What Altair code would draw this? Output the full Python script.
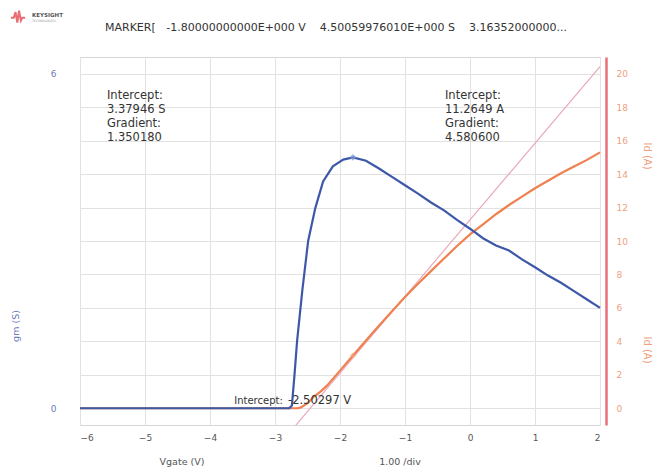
import altair as alt
import pandas as pd

# ---- data ----
vg_gm = [-6.0, -3.0, -2.78, -2.74, -2.70, -2.66, -2.58, -2.49, -2.38, -2.26, -2.11, -1.95,
         -1.8, -1.6, -1.4, -1.2, -1.0, -0.8, -0.6, -0.4, -0.2, 0.0, 0.2, 0.4, 0.6, 0.8,
         1.0, 1.2, 1.4, 1.6, 1.8, 2.0]
gm_vals = [0.0, 0.0, 0.0, 0.05, 0.6, 1.21, 2.11, 3.0, 3.59, 4.07, 4.34, 4.46,
           4.50, 4.44, 4.30, 4.15, 4.0, 3.85, 3.69, 3.55, 3.38, 3.22, 3.05, 2.92, 2.83, 2.67,
           2.53, 2.38, 2.25, 2.10, 1.95, 1.80]

vg_id = [-6.0, -3.0, -2.65, -2.6, -2.5, -2.4, -2.3, -2.2, -2.0, -1.8, -1.5, -1.2, -1.0,
         -0.8, -0.6, -0.4, -0.2, 0.0, 0.2, 0.4, 0.6, 0.8, 1.0, 1.2, 1.4, 1.6, 1.8, 2.0]
id_vals = [0.0, 0.0, 0.0, 0.05, 0.3, 0.7, 1.0, 1.35, 2.25, 3.16, 4.5, 5.8, 6.65,
           7.45, 8.2, 8.95, 9.7, 10.4, 11.0, 11.6, 12.15, 12.65, 13.15, 13.6, 14.05, 14.45, 14.85, 15.3]

tan_vg = [-2.72, 2.0]
tan_id = [-1.2, 20.43]

marker_vg = [-1.8]
marker_gm = [4.50]
marker_id = [3.16]

x_ticks = [-6, -5, -4, -3, -2, -1, 0, 1, 2]
gm_ticks = [0, 6]
id_ticks = [0, 2, 4, 6, 8, 10, 12, 14, 16, 18, 20]

NB = "\u00a0"
header = ("MARKER[" + NB * 3 + "-1.80000000000E+000 V" + NB * 4 +
          "4.50059976010E+000 S" + NB * 4 + "3.16352000000...")
note_gm = "Intercept:\n3.37946 S\nGradient:\n1.350180"
note_id = "Intercept:\n11.2649 A\nGradient:\n4.580600"
vth_label = "Intercept:"
vth_value = "-2.50297 V"

BLUE = "#3d58a8"
ORANGE = "#ef8150"
PINK = "#e9a3b5"
RED = "#e8707a"
FONT = "DejaVu Sans"

gm_df = pd.DataFrame({"Vgate": vg_gm, "gm": gm_vals})
id_df = pd.DataFrame({"Vgate": vg_id, "Id": id_vals})
tan_df = pd.DataFrame({"Vgate": tan_vg, "Id": tan_id})
mk_df = pd.DataFrame({"Vgate": marker_vg, "gm": marker_gm, "Id": marker_id})

xscale = alt.Scale(domain=[-6, 2], nice=False, zero=False)
gm_scale = alt.Scale(domain=[-0.3, 6.3], nice=False, zero=False)
id_scale = alt.Scale(domain=[-1, 21], nice=False, zero=False)

x_axis = alt.Axis(values=x_ticks, format="d", title="", grid=True, gridColor="#e2e2e2",
                  domain=False, ticks=False, labelPadding=8, labelFontSize=9,
                  labelColor="#555555", labelFont=FONT)
gm_axis = alt.Axis(values=gm_ticks, format="d", title="", grid=False, domain=False,
                   ticks=False, labelPadding=24, labelFontSize=9, labelColor="#6a7bb8",
                   labelFont=FONT)
id_axis = alt.Axis(values=id_ticks, format="d", title="", grid=True, gridColor="#e2e2e2",
                   domain=True, domainColor=RED, domainWidth=2.5, offset=6, ticks=False,
                   labelPadding=10, labelFontSize=9, labelColor="#f0a080", labelFont=FONT,
                   labelOverlap=False, orient="right")

X = alt.X("Vgate:Q", scale=xscale, axis=x_axis)
YG = alt.Y("gm:Q", scale=gm_scale, axis=gm_axis)
YI = alt.Y("Id:Q", scale=id_scale, axis=id_axis)

# left layer: gm
gm_line = alt.Chart(gm_df).mark_line(color=BLUE, strokeWidth=2.2).encode(x=X, y=YG)
gm_mark = alt.Chart(mk_df).mark_point(shape="diamond", size=45, color="#7f95d8",
                                      filled=True).encode(x=X, y=YG)

notes_df = pd.DataFrame({"Vgate": [-5.585, -0.385], "gm": [5.70, 5.70],
                         "txt": [note_gm, note_id]})
notes = alt.Chart(notes_df).mark_text(align="left", baseline="top", lineBreak="\n",
                                      lineHeight=14, fontSize=11.5, color="#333333",
                                      font=FONT).encode(x=X, y=YG, text="txt:N")

vth_df = pd.DataFrame({"Vgate": [-2.88, -2.80], "gm": [0.13, 0.13],
                       "txt": [vth_label, vth_value], "al": ["r", "l"]})
vth_l = alt.Chart(vth_df).transform_filter("datum.al == 'r'").mark_text(
    align="right", baseline="middle", fontSize=10, color="#333333", font=FONT).encode(
    x=X, y=YG, text="txt:N")
vth_r = alt.Chart(vth_df).transform_filter("datum.al == 'l'").mark_text(
    align="left", baseline="middle", fontSize=11.5, color="#333333", font=FONT).encode(
    x=X, y=YG, text="txt:N")

# static texts (header, titles, logo)
head_txt = alt.Chart(pd.DataFrame({"t": [header]})).mark_text(
    align="left", baseline="middle", fontSize=11, color="#333333", font=FONT).encode(
    x=alt.value(25), y=alt.value(-29), text="t:N")
logo_txt = alt.Chart(pd.DataFrame({"t": ["KEYSIGHT"]})).mark_text(
    align="left", baseline="middle", fontSize=5.5, color="#555555", font=FONT,
    fontWeight="bold").encode(x=alt.value(-48), y=alt.value(-42), text="t:N")
logo_sub = alt.Chart(pd.DataFrame({"t": ["TECHNOLOGIES"]})).mark_text(
    align="left", baseline="middle", fontSize=3, color="#999999", font=FONT).encode(
    x=alt.value(-48), y=alt.value(-36), text="t:N")
logo = alt.Chart(pd.DataFrame({"a": [1]})).mark_point(
    shape="M-1,0.1L-0.6,0.1L-0.35,-0.7L-0.1,0.8L0.15,-0.9L0.4,0.5L0.6,0.1L1,0.1",
    size=200, color="#e0303a", strokeWidth=2, filled=False).encode(
    x=alt.value(-62), y=alt.value(-40))

xt1 = alt.Chart(pd.DataFrame({"t": ["Vgate (V)"]})).mark_text(
    fontSize=9.5, color="#555555", font=FONT).encode(
    x=alt.value(102), y=alt.value(405), text="t:N")
xt2 = alt.Chart(pd.DataFrame({"t": ["1.00 /div"]})).mark_text(
    fontSize=9.5, color="#555555", font=FONT).encode(
    x=alt.value(320), y=alt.value(405), text="t:N")
ylt = alt.Chart(pd.DataFrame({"t": ["gm (S)"]})).mark_text(
    fontSize=9.5, color="#6a7bb8", font=FONT, angle=270).encode(
    x=alt.value(-64), y=alt.value(269), text="t:N")
yrt1 = alt.Chart(pd.DataFrame({"t": ["Id (A)"]})).mark_text(
    fontSize=10, color="#f0a080", font=FONT, angle=90).encode(
    x=alt.value(567), y=alt.value(99), text="t:N")
yrt2 = alt.Chart(pd.DataFrame({"t": ["Id (A)"]})).mark_text(
    fontSize=10, color="#f0a080", font=FONT, angle=90).encode(
    x=alt.value(567), y=alt.value(293), text="t:N")

left = alt.layer(gm_line, gm_mark, notes, vth_l, vth_r, head_txt, logo, logo_txt,
                 logo_sub, xt1, xt2, ylt, yrt1, yrt2)

# right layer: Id
id_line = alt.Chart(id_df).mark_line(color=ORANGE, strokeWidth=2.2).encode(x=X, y=YI)
tan_line = alt.Chart(tan_df).mark_line(color=PINK, strokeWidth=1.1, clip=True).encode(
    x=X, y=YI)
id_mark = alt.Chart(mk_df).mark_point(shape="diamond", size=35, color="#f4a070",
                                      filled=True).encode(x=X, y=YI)
right = alt.layer(tan_line, id_line, id_mark)

chart = alt.layer(right, left).resolve_scale(y="independent").properties(
    width=520, height=368,
    autosize=alt.AutoSizeParams(type="none"),
    padding={"left": 72, "top": 49, "right": 54, "bottom": 47},
    background="white",
).configure_view(stroke="#d6d6d6", strokeWidth=1)

chart.save("out.html", embed_options={"renderer": "svg", "actions": False})
